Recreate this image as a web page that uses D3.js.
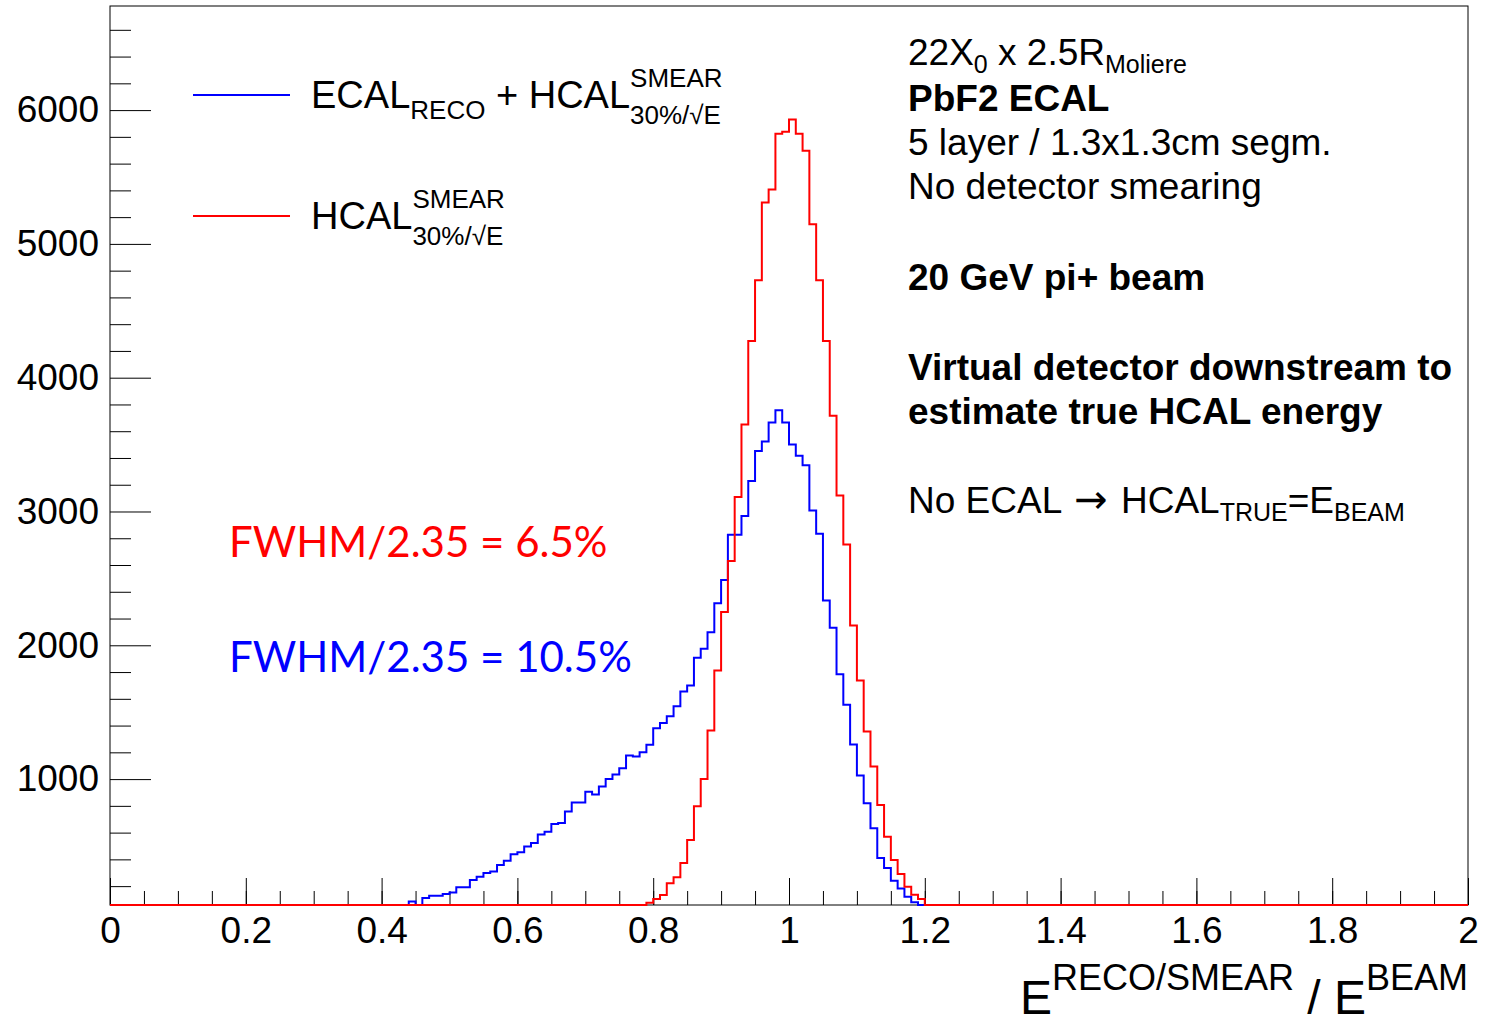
<!DOCTYPE html>
<html>
<head>
<meta charset="utf-8">
<script src="https://cdn.jsdelivr.net/npm/d3@7"></script>
<style>
  body { margin: 0; background: #fff; }
  svg text { font-family: "Liberation Sans", Arial, Helvetica, sans-serif; white-space: pre; }
</style>
</head>
<body>
<script>
// histogram binning (200 bins from 0 to 2)
const binLow = 0, binWidth = 0.01, nBins = 200;

// ECAL_RECO + HCAL_SMEAR (blue), counts starting at bin 44
const blueFirstBin = 44;
const blueCounts = [85, 30, 111, 129, 129, 141, 153, 191, 191, 246,
  271, 298, 310, 358, 390, 438, 453, 497, 523, 585,
  607, 665, 672, 757, 826, 826, 906, 884, 944, 1001,
  1034, 1081, 1176, 1168, 1200, 1256, 1380, 1420, 1470, 1545,
  1654, 1699, 1906, 1974, 2098, 2315, 2488, 2826, 2826, 2966,
  3227, 3452, 3524, 3666, 3756, 3666, 3500, 3417, 3345, 3008,
  2834, 2335, 2131, 1784, 1555, 1258, 1026, 819, 632, 411,
  336, 241, 183, 121, 80];

// HCAL_SMEAR only (red), counts starting at bin 79
const redFirstBin = 79;
const redCounts = [75, 104, 134, 221, 266, 373, 545, 797, 1001, 1363,
  1812, 2249, 2630, 3108, 3651, 4275, 4729, 5310, 5407, 5823,
  5838, 5930, 5823, 5696, 5147, 4729, 4275, 3716, 3120, 2754,
  2148, 1737, 1355, 1094, 807, 570, 396, 291, 196, 136,
  104];

const xTicks = [0, 0.2, 0.4, 0.6, 0.8, 1, 1.2, 1.4, 1.6, 1.8, 2];
const yTicks = [1000, 2000, 3000, 4000, 5000, 6000];
const yRange = [59, 6778];

const fwhmLabels = ["FWHM/2.35 = 6.5%", "FWHM/2.35 = 10.5%"];

const width = 1498, height = 1025;
const frame = {left: 110, right: 1468, top: 6, bottom: 905};

const svg = d3.select("body").append("svg")
    .attr("width", width).attr("height", height);

const x = d3.scaleLinear().domain([0, 2]).range([frame.left, frame.right]);
const y = d3.scaleLinear().domain(yRange).range([frame.bottom, frame.top]);

// frame
svg.append("rect")
    .attr("x", frame.left).attr("y", frame.top)
    .attr("width", frame.right - frame.left).attr("height", frame.bottom - frame.top)
    .attr("fill", "none").attr("stroke", "#000").attr("stroke-width", 1);

// y axis (ticks inward)
const yMajor = d3.axisLeft(y).tickValues(yTicks).tickSize(-41).tickSizeOuter(0)
    .tickPadding(11).tickFormat(d3.format("d"));
const yMinor = d3.axisLeft(y).tickValues(d3.range(200, 6800, 200).filter(v => v % 1000 != 0))
    .tickSize(-21).tickSizeOuter(0).tickFormat("");
svg.append("g").attr("transform", `translate(${frame.left},0)`).call(yMinor);
svg.append("g").attr("transform", `translate(${frame.left},0)`).call(yMajor)
    .selectAll("text").attr("font-size", 37).attr("fill", "#000")
    .style("font-family", "Liberation Sans, Arial, sans-serif");

// x axis (ticks inward)
const xMajor = d3.axisBottom(x).tickValues(xTicks).tickSize(-27).tickSizeOuter(0)
    .tickPadding(12).tickFormat(d => d3.format("")(+d.toFixed(1)));
const xMinor = d3.axisBottom(x).tickValues(d3.range(0.05, 2, 0.05))
    .tickSize(-14).tickSizeOuter(0).tickFormat("");
svg.append("g").attr("transform", `translate(0,${frame.bottom})`).call(xMinor);
svg.append("g").attr("transform", `translate(0,${frame.bottom})`).call(xMajor)
    .selectAll("text").attr("font-size", 37).attr("fill", "#000")
    .style("font-family", "Liberation Sans, Arial, sans-serif");

svg.selectAll(".domain").remove();
svg.selectAll(".tick line").attr("stroke", "#000");

// histograms as step lines
function fullBins(first, counts) {
    return d3.range(nBins).map(i => {
        const j = i - first;
        return (j >= 0 && j < counts.length) ? counts[j] : 0;
    });
}
function stepPoints(bins) {
    const pts = [];
    bins.forEach((v, i) => {
        const lo = binLow + i * binWidth;
        const c = Math.max(yRange[0], Math.min(yRange[1], v));
        pts.push([lo, c], [lo + binWidth, c]);
    });
    return pts;
}
const line = d3.line().x(d => x(d[0])).y(d => y(d[1]));

svg.append("path").datum(stepPoints(fullBins(blueFirstBin, blueCounts)))
    .attr("d", line).attr("fill", "none").attr("stroke", "#0000ff").attr("stroke-width", 2);
svg.append("path").datum(stepPoints(fullBins(redFirstBin, redCounts)))
    .attr("d", line).attr("fill", "none").attr("stroke", "#ff0000").attr("stroke-width", 2);

// rich text helper: pieces laid out left to right, "stack" puts a piece at the previous start
function rich(g, x0, y0, pieces) {
    let cx = x0, prevStart = x0;
    pieces.forEach(p => {
        const sx = (p.stack ? prevStart : cx) + (p.gap || 0);
        const t = g.append("text").attr("x", sx).attr("y", y0 + (p.dy || 0))
            .attr("font-size", p.size).attr("font-weight", p.bold ? "bold" : "normal")
            .attr("fill", p.color || "#000").text(p.text);
        if (p.family) t.style("font-family", p.family);
        const w = t.node().getComputedTextLength();
        if (p.stack) cx = Math.max(cx, sx + w);
        else { prevStart = sx; cx = sx + w; }
    });
    return cx;
}

// legend
const leg = svg.append("g");
leg.append("line").attr("x1", 193).attr("x2", 290).attr("y1", 95).attr("y2", 95)
    .attr("stroke", "#0000ff").attr("stroke-width", 2);
leg.append("line").attr("x1", 193).attr("x2", 290).attr("y1", 216).attr("y2", 216)
    .attr("stroke", "#ff0000").attr("stroke-width", 2);
rich(leg, 311, 108, [
    {text: "ECAL", size: 38},
    {text: "RECO", size: 26, dy: 11},
    {text: " + HCAL", size: 38},
    {text: "SMEAR", size: 26, dy: -21},
    {text: "30%/\u221AE", size: 26, dy: 16, stack: true}
]);
rich(leg, 311, 229, [
    {text: "HCAL", size: 38},
    {text: "SMEAR", size: 26, dy: -21},
    {text: "30%/\u221AE", size: 26, dy: 16, stack: true}
]);

// info text block on the right
const info = svg.append("g");
rich(info, 908, 65, [
    {text: "22X", size: 37}, {text: "0", size: 25, dy: 8},
    {text: " x 2.5R", size: 37}, {text: "Moliere", size: 25, dy: 8}
]);
rich(info, 908, 111, [{text: "PbF2 ECAL", size: 37, bold: true}]);
rich(info, 908, 155, [{text: "5 layer / 1.3x1.3cm segm.", size: 37}]);
rich(info, 908, 199, [{text: "No detector smearing", size: 37}]);
rich(info, 908, 290, [{text: "20 GeV pi+ beam", size: 37, bold: true}]);
rich(info, 908, 380, [{text: "Virtual detector downstream to", size: 37, bold: true}]);
rich(info, 908, 424, [{text: "estimate true HCAL energy", size: 37, bold: true}]);
rich(info, 908, 513, [
    {text: "No ECAL ", size: 37},
    {text: "\u2192", size: 40, gap: 3, family: "DejaVu Sans, sans-serif"},
    {text: " HCAL", size: 37, gap: 3}, {text: "TRUE", size: 25, dy: 8},
    {text: "=E", size: 37}, {text: "BEAM", size: 25, dy: 8}
]);

// FWHM annotations
svg.append("text").attr("x", 229).attr("y", 557).attr("font-size", 42)
    .style("font-family", "Lato, 'Open Sans', sans-serif").attr("fill", "#ff0000").text(fwhmLabels[0]);
svg.append("text").attr("x", 229).attr("y", 672).attr("font-size", 42)
    .style("font-family", "Lato, 'Open Sans', sans-serif").attr("fill", "#0000ff").text(fwhmLabels[1]);

// x axis title, right aligned to the frame
const xt = svg.append("g");
const endX = rich(xt, 0, 1014, [
    {text: "E", size: 48}, {text: "RECO/SMEAR", size: 36, dy: -24},
    {text: " / E", size: 48}, {text: "BEAM", size: 36, dy: -24}
]);
xt.attr("transform", `translate(${frame.right - endX},0)`);
</script>
</body>
</html>
